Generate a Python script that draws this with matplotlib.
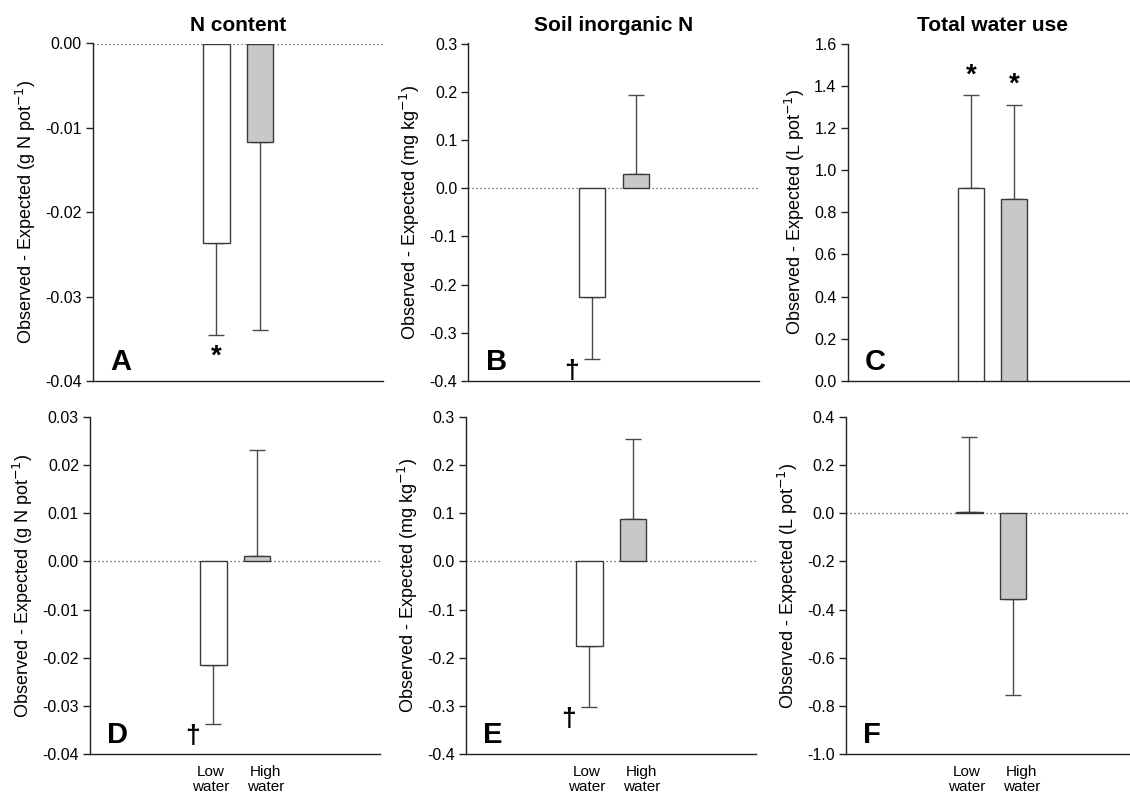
import matplotlib
matplotlib.use("Agg")
import matplotlib.pyplot as plt
from matplotlib.ticker import FuncFormatter
import numpy as np

plt.rcParams['font.family'] = ['Liberation Sans', 'DejaVu Sans']

# ---------------- data ----------------
categories = ["Low\nwater", "High\nwater"]
panel_letters = ["A", "B", "C", "D", "E", "F"]
column_titles = ["N content", "Soil inorganic N", "Total water use"]
ylabels = [r"Observed - Expected (g N pot$^{-1}$)",
           r"Observed - Expected (mg kg$^{-1}$)",
           r"Observed - Expected (L pot$^{-1}$)"]

# means (Low water, High water) and error bar lengths
mean_A = [-0.0236, -0.0117]; err_A = [0.0110, 0.0222]
mean_B = [-0.225, 0.030];    err_B = [0.130, 0.164]
mean_C = [0.913, 0.864];     err_C = [0.442, 0.446]
mean_D = [-0.0215, 0.0012];  err_D = [0.0122, 0.0218]
mean_E = [-0.176, 0.087];    err_E = [0.1255, 0.166]
mean_F = [0.004, -0.355];    err_F = [0.312, 0.401]

means = [mean_A, mean_B, mean_C, mean_D, mean_E, mean_F]
errs = [err_A, err_B, err_C, err_D, err_E, err_F]

# y-axis ranges and tick steps
ylims = [(-0.04, 0.0), (-0.4, 0.3), (0.0, 1.6),
         (-0.04, 0.03), (-0.4, 0.3), (-1.0, 0.4)]
ysteps = [0.01, 0.1, 0.2, 0.01, 0.1, 0.2]
ydecimals = [2, 1, 1, 2, 1, 1]

# significance marks: (panel index, bar index, symbol)
marks = [(0, 0, "*"), (1, 0, "\u2020"), (2, 0, "*"), (2, 1, "*"),
         (3, 0, "\u2020"), (4, 0, "\u2020")]

# ---------------- figure ----------------
W, H = 1130, 794
fig = plt.figure(figsize=(W / 100, H / 100), dpi=100)

# axes boxes in pixels: left, top, right, bottom
boxes = [(93, 43.5, 383, 381), (468.3, 43.5, 759, 381), (847.7, 43.5, 1137, 381),
         (90, 416.7, 380, 754.3), (466, 416.7, 756, 754.3), (846, 416.7, 1136, 754.3)]

fills = ["white", "#c8c8c8"]
edge = "#3a3a3a"
errc = "#4a4a4a"
x = np.arange(len(categories))


def make_fmt(nd):
    def f(v, pos):
        v = round(v, nd)
        if v == 0:
            v = 0.0
        return f"{v:.{nd}f}"
    return FuncFormatter(f)


axes = []
for i in range(6):
    l, t, r, b = boxes[i]
    ax = fig.add_axes([l / W, 1 - b / H, (r - l) / W, (b - t) / H])
    axes.append(ax)
    m = np.array(means[i]); e = np.array(errs[i])
    ax.axhline(0, color="#555555", lw=0.9, ls=(0, (1, 2.2)), zorder=1)
    ax.bar(x, m, width=0.6, color=fills, edgecolor=edge, linewidth=1.0, zorder=3)
    lower = np.where(m < 0, e, 0)
    upper = np.where(m >= 0, e, 0)
    ax.errorbar(x, m, yerr=[lower, upper], fmt="none", ecolor=errc,
                elinewidth=1.0, capsize=5.5, capthick=1.0, zorder=2)
    ax.set_xlim(-2.84, 3.83)
    lo, hi = ylims[i]
    ax.set_ylim(lo, hi)
    ax.set_yticks(np.arange(lo, hi + ysteps[i] / 2, ysteps[i]))
    ax.yaxis.set_major_formatter(make_fmt(ydecimals[i]))
    for s in ["top", "right"]:
        ax.spines[s].set_visible(False)
    for s in ["left", "bottom"]:
        ax.spines[s].set_linewidth(1.0)
        ax.spines[s].set_color("#222222")
    ax.tick_params(axis="y", direction="out", length=5, width=1.0,
                   labelsize=11.5, pad=3, color="#222222")
    ax.set_ylabel(ylabels[i % 3], fontsize=13, labelpad=5)
    if i >= 3:
        ax.set_xticks(x + np.array([-0.07, 0.19]))
        ax.set_xticklabels(categories, fontsize=11, linespacing=1.05)
        ax.tick_params(axis="x", length=0, pad=8)
    else:
        ax.set_xticks([])
        ax.set_title(column_titles[i], fontsize=15, fontweight="bold", pad=9)
    ax.text(0.06, 0.033, panel_letters[i], transform=ax.transAxes,
            fontsize=21, fontweight="bold", va="baseline", ha="left")

for (pi, bi, sym) in marks:
    ax = axes[pi]
    m = means[pi][bi]; e = errs[pi][bi]
    end = m + e if m >= 0 else m - e
    if sym == "*":
        if m >= 0:
            ax.annotate(sym, (x[bi], end), xytext=(0, 5), textcoords="offset points",
                        ha="center", va="bottom", fontsize=20, fontweight="bold")
        else:
            ax.annotate(sym, (x[bi], end), xytext=(0, -6), textcoords="offset points",
                        ha="center", va="top", fontsize=20, fontweight="bold")
    else:
        ax.annotate(sym, (x[bi], end), xytext=(-15, 0), textcoords="offset points",
                    ha="center", va="top", fontsize=19, fontweight="bold")

fig.savefig("out.png", dpi=100)
